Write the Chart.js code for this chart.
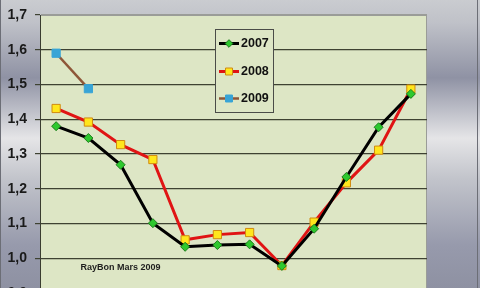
<!DOCTYPE html>
<html><head><meta charset="utf-8">
<script src="https://cdn.jsdelivr.net/npm/chart.js@4/dist/chart.umd.min.js"></script>
<style>
html,body{margin:0;padding:0;width:480px;height:288px;overflow:hidden;background:#b0b2bc}
#wrap{position:relative;width:480px;height:300px}
</style></head><body>
<div id="wrap"><canvas id="c" width="480" height="300"></canvas></div>
<script>
const months = ['jan','feb','mar','apr','maj','jun','jul','aug','sep','okt','nov','dec'];
const series2007 = [1.380, 1.346, 1.269, 1.101, 1.033, 1.038, 1.040, 0.978, 1.085, 1.234, 1.377, 1.473];
const series2008 = [1.431, 1.392, 1.327, 1.284, 1.053, 1.068, 1.074, 0.979, 1.104, 1.217, 1.311, 1.487];
const series2009 = [1.590, 1.488];
const seriesNames = ['2007', '2008', '2009'];
const yMin = 0.9, yMax = 1.7, yStep = 0.1;
const noteText = 'RayBon Mars 2009';

const bgPlugin = {
  id: 'bg',
  beforeDraw(chart) {
    const {ctx, width, height, chartArea: a} = chart;
    ctx.save();
    const g = ctx.createLinearGradient(0, 0, 0, 288);
    g.addColorStop(0.00, '#caccd0');
    g.addColorStop(0.08, '#bfc1c8');
    g.addColorStop(0.27, '#8f92a4');
    g.addColorStop(0.48, '#e5e5e7');
    g.addColorStop(0.62, '#c2c4cb');
    g.addColorStop(0.85, '#979aac');
    g.addColorStop(1.00, '#8e91a2');
    ctx.fillStyle = g;
    ctx.fillRect(0, 0, width, height);
    ctx.fillStyle = '#6c6e76';
    ctx.fillRect(0, 0, 1, height);
    ctx.fillRect(477, 0, 1, height);
    ctx.fillStyle = '#dde6c5';
    ctx.fillRect(a.left, a.top, a.right - a.left, a.bottom - a.top);
    ctx.strokeStyle = '#9a9c98';
    ctx.lineWidth = 1;
    ctx.beginPath();
    ctx.moveTo(a.left, a.top + 0.5); ctx.lineTo(a.right, a.top + 0.5);
    ctx.moveTo(a.right - 0.5, a.top); ctx.lineTo(a.right - 0.5, a.bottom);
    ctx.stroke();
    ctx.restore();
  },
  afterDraw(chart) {
    const {ctx} = chart;
    ctx.save();
    ctx.font = 'bold 9px "Liberation Sans", Arial, sans-serif';
    ctx.fillStyle = '#1e1e1e';
    ctx.textBaseline = 'middle';
    ctx.fillText(noteText, 80.5, 268);
    const bx = 215.5, by = 29.5, bw = 58, bh = 83;
    ctx.fillStyle = '#dde6c5';
    ctx.fillRect(bx, by, bw, bh);
    ctx.strokeStyle = '#4a4c48';
    ctx.lineWidth = 1;
    ctx.strokeRect(bx, by, bw, bh);
    const rows = [43.5, 71.5, 98.5];
    chart.data.datasets.forEach((ds, i) => {
      const y = rows[i];
      ctx.strokeStyle = ds.borderColor;
      ctx.lineWidth = ds.borderWidth;
      ctx.beginPath();
      ctx.moveTo(219, y); ctx.lineTo(239, y);
      ctx.stroke();
      ctx.fillStyle = ds.pointBackgroundColor;
      ctx.strokeStyle = ds.pointBorderColor;
      ctx.lineWidth = ds.pointBorderWidth;
      Chart.helpers.drawPoint(ctx, {pointStyle: ds.pointStyle, radius: ds.pointRadius * 0.85, borderWidth: ds.pointBorderWidth, rotation: 0}, 229, y);
      ctx.fillStyle = '#111';
      ctx.font = 'bold 12.5px "Liberation Sans", Arial, sans-serif';
      ctx.textBaseline = 'middle';
      ctx.fillText(ds.label, 241, y + 0.5);
    });
    ctx.restore();
  }
};

new Chart(document.getElementById('c'), {
  type: 'line',
  data: {
    labels: months,
    datasets: [
      {label: seriesNames[0], data: series2007, borderColor: '#000000', borderWidth: 3,
       pointStyle: 'rectRot', pointRadius: 4.5, pointBackgroundColor: '#2ec82e', pointBorderColor: '#1b7d1b', pointBorderWidth: 1},
      {label: seriesNames[1], data: series2008, borderColor: '#e01414', borderWidth: 3,
       pointStyle: 'rect', pointRadius: 5.8, pointBackgroundColor: '#ffe61c', pointBorderColor: '#d08a10', pointBorderWidth: 1},
      {label: seriesNames[2], data: series2009, borderColor: '#8e5638', borderWidth: 2.5,
       pointStyle: 'rect', pointRadius: 5.8, pointBackgroundColor: '#38a4d6', pointBorderColor: '#38a4d6', pointBorderWidth: 1}
    ]
  },
  options: {
    responsive: false,
    animation: false,
    events: [],
    layout: {padding: {left: 0, top: 15, right: 53, bottom: 7}},
    plugins: {legend: {display: false}, tooltip: {enabled: false}, title: {display: false}},
    elements: {line: {tension: 0}},
    scales: {
      x: {type: 'category', display: false, offset: true},
      y: {
        min: yMin, max: yMax,
        afterFit(s) { s.width = 40; s.paddingTop = 0; s.paddingBottom = 0; },
        border: {display: true, color: '#3a3d30', width: 1},
        grid: {
          drawTicks: true, tickLength: 5,
          color: (c) => Math.abs(c.tick.value - yMax) < 1e-6 ? '#9a9c98' : '#3e4232',
          tickColor: '#3e4232',
          lineWidth: 1.2
        },
        ticks: {
          stepSize: yStep, padding: 8, color: '#1a1a1a',
          font: {family: '"Liberation Sans", Arial, sans-serif', size: 14, weight: 'bold'},
          callback: (v) => v.toFixed(1).replace('.', ',')
        }
      }
    }
  },
  plugins: [bgPlugin]
});
</script>
</body></html>
